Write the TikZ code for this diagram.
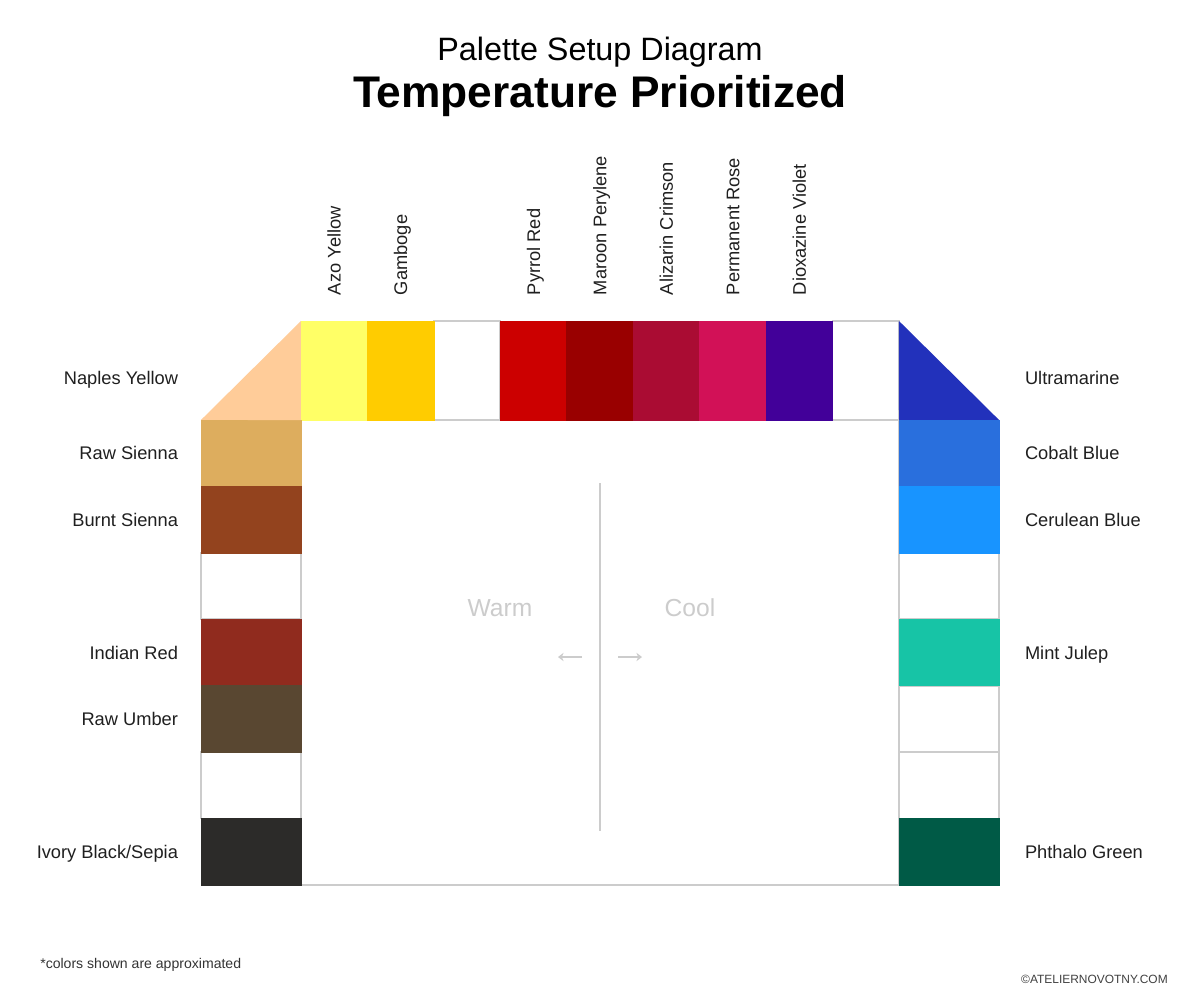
\documentclass[tikz,border=0pt]{standalone}
\usepackage{fontspec}
\setmainfont{Liberation Sans}
\usepackage{xcolor}
\usetikzlibrary{calc, positioning, arrows.meta}

\definecolor{lineGray}{HTML}{CCCCCC}
\definecolor{naples}{HTML}{FFCC99}
\definecolor{azo}{HTML}{FFFF66}
\definecolor{gamboge}{HTML}{FFCC00}
\definecolor{pyrrol}{HTML}{CC0000}
\definecolor{maroon}{HTML}{990000}
\definecolor{alizarin}{HTML}{AA0C33}
\definecolor{rose}{HTML}{D21157}
\definecolor{dioxazine}{HTML}{420099}
\definecolor{ultramarine}{HTML}{2231BB}
\definecolor{rawsienna}{HTML}{DDAD5E}
\definecolor{burntsienna}{HTML}{93431E}
\definecolor{indianred}{HTML}{902B1E}
\definecolor{rawumber}{HTML}{594731}
\definecolor{ivory}{HTML}{2C2B29}
\definecolor{cobalt}{HTML}{296FDD}
\definecolor{cerulean}{HTML}{1894FF}
\definecolor{mint}{HTML}{17C4A6}
\definecolor{phthalo}{HTML}{005A46}

\tikzset{
	swatch/.style={draw=#1, fill=#1, line width=0.4pt, inner sep=0pt, outer sep=0pt},
	blank/.style={draw=lineGray, fill=white, line width=1.2pt, inner sep=0pt, outer sep=0pt},
	topcell/.style={minimum width=1.661cm, minimum height=2.475cm},
	sidecell/.style={minimum width=2.5cm, minimum height=1.661cm},
	paint/.style={font=\fontsize{13}{15}\selectfont, text=black!88, inner sep=0pt, outer sep=0pt},
	side/.style={font=\fontsize{17.5}{20}\selectfont, text=lineGray}
}

\begin{document}
\begin{tikzpicture}[x=0.025cm, y=-0.025cm]
	\def\cellW{66.44}
	\def\cellH{66.43}
	\def\capHalf{6.5}

	\useasboundingbox (0,0) rectangle (1200,1000);

	% titles
	\node[font=\fontsize{23}{28}\selectfont, anchor=base] (subtitle) at (600,60) {Palette Setup Diagram};
	\node[font=\fontsize{31.5}{40}\selectfont\bfseries, anchor=base] (title) at (600,107) {Temperature Prioritized};

	% mixing well
	\node[draw=lineGray, line width=1.2pt, minimum width=14.95cm, minimum height=11.625cm, inner sep=0pt] (well) at (600,652.5) {};

	\begin{scope}
		% top row
		\foreach \i in {2,8}
		{
			\node[blank, topcell] (top-\i) at ({334.2+\cellW*\i},370.5) {};
		}
		\foreach \i/\col/\lab in {0/azo/Azo Yellow, 1/gamboge/Gamboge, 3/pyrrol/Pyrrol Red, 4/maroon/Maroon Perylene, 5/alizarin/Alizarin Crimson, 6/rose/Permanent Rose, 7/dioxazine/Dioxazine Violet}
		{
			\node[swatch=\col, topcell] (top-\i) at ({334.2+\cellW*\i},370.5) {};
			\node[paint, rotate=90, anchor=base west] (toplab-\i) at ({334.2+\capHalf+\cellW*\i},295) {\lab};
		}

		% left column
		\foreach \j in {2,5}
		{
			\node[blank, sidecell] (left-\j) at (251,{453.2+\cellH*\j}) {};
		}
		\foreach \j/\col/\lab in {0/rawsienna/Raw Sienna, 1/burntsienna/Burnt Sienna, 3/indianred/Indian Red, 4/rawumber/Raw Umber, 6/ivory/Ivory Black\slash Sepia}
		{
			\node[swatch=\col, sidecell] (left-\j) at (251,{453.2+\cellH*\j}) {};
			\node[paint, anchor=base east] (leftlab-\j) at (178,{453.2+\capHalf+\cellH*\j}) {\lab};
		}

		% right column
		\foreach \j in {2,4,5}
		{
			\node[blank, sidecell] (right-\j) at (949,{453.2+\cellH*\j}) {};
		}
		\foreach \j/\col/\lab in {0/cobalt/Cobalt Blue, 1/cerulean/Cerulean Blue, 3/mint/Mint Julep, 6/phthalo/Phthalo Green}
		{
			\node[swatch=\col, sidecell] (right-\j) at (949,{453.2+\cellH*\j}) {};
			\node[paint, anchor=base west] (rightlab-\j) at (1025,{453.2+\capHalf+\cellH*\j}) {\lab};
		}
	\end{scope}

	% corner wells
	\begin{scope}
		\fill[naples] (top-0.north west) -- (top-0.south west) -- (left-0.north west) -- cycle;
		\fill[ultramarine] (top-8.north east) -- (right-0.north east) -- (right-0.north west) -- cycle;
		\node[paint, anchor=base east] (naplesLab) at (178,{378+\capHalf}) {Naples Yellow};
		\node[paint, anchor=base west] (ultraLab) at (1025,{378+\capHalf}) {Ultramarine};
	\end{scope}

	% warm / cool split
	\begin{scope}
		\coordinate (divTop) at (600,483);
		\coordinate (divBot) at (600,831);
		\draw[lineGray, line width=1.4pt] (divTop) -- (divBot);
		\node[side] (warm) at (500,608) {Warm};
		\node[side] (cool) at (690,608) {Cool};
		\coordinate (warmFrom) at (582,657);
		\coordinate (warmTo) at (558,657);
		\coordinate (coolFrom) at (618,657);
		\coordinate (coolTo) at (642,657);
		\draw[lineGray, line width=1.3pt, -{Stealth[length=4pt, width=6pt]}] (warmFrom) -- (warmTo);
		\draw[lineGray, line width=1.3pt, -{Stealth[length=4pt, width=6pt]}] (coolFrom) -- (coolTo);
	\end{scope}

	% footer
	\node[font=\fontsize{10}{12}\selectfont, text=black!80, anchor=west, inner sep=0pt] (note) at (40,965) {*colors shown are approximated};
	\node[font=\fontsize{8.5}{10}\selectfont, text=black!75, anchor=east, inner sep=0pt] (credit) at (1168,979) {\textcopyright ATELIERNOVOTNY.COM};
\end{tikzpicture}
\end{document}
